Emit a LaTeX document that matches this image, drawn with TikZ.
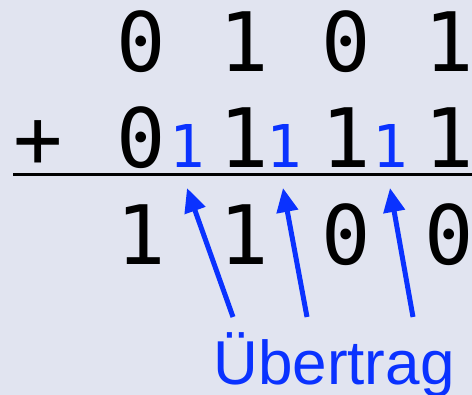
\documentclass[tikz,border=0pt]{standalone}
\usepackage{fontspec}
\setmonofont{DejaVu Sans Mono}
\newfontfamily\labelfont{Liberation Sans}
\usetikzlibrary{arrows.meta}
\definecolor{bgpaper}{RGB}{225,228,240}
\definecolor{carryblue}{RGB}{10,50,255}
\tikzset{
  digit/.style={anchor=base,inner sep=0,outer sep=0,font=\ttfamily\fontsize{82}{82}\selectfont},
  carry digit/.style={digit,text=carryblue,font=\ttfamily\fontsize{59}{59}\selectfont},
  carry label/.style={anchor=base,inner sep=0,outer sep=0,text=carryblue,font=\labelfont\fontsize{62}{62}\selectfont},
  carry arrow/.style={draw=carryblue,line width=5pt,-{Triangle[length=24pt,width=21pt]}},
  sum rule/.style={line width=3pt}
}

\begin{document}
\begin{tikzpicture}[x=1pt,y=-1pt]
  % Paper
  \fill[bgpaper] (0,0) rectangle (472,395);
  \useasboundingbox (0,0) rectangle (472,395);
  % Summands, carries and result
  \foreach \x/\d [count=\i] in {141/0,244/1,346/0,449/1} \node[digit] (A\i) at (\x,72) {\d};
  \node[digit] (plus) at (38,168) {+};
  \foreach \x/\d [count=\i] in {141/0,244/1,346/1,449/1} \node[digit] (B\i) at (\x,168) {\d};
  \foreach \x [count=\i] in {187,284,390} \node[carry digit] (C\i) at (\x,168) {1};
  \draw[sum rule] (13,174.5) coordinate (rule west) -- (472,174.5) coordinate (rule east);
  \foreach \x/\d [count=\i] in {141/1,244/1,346/0,449/0} \node[digit] (S\i) at (\x,265) {\d};
  % Label with arrows to the carries
  \node[carry label] (carry) at (334,385) {Übertrag};
  \foreach \tx/\hx [count=\i] in {233/187,307/283,413/390} {
    \coordinate (tail\i) at (\tx,317);
    \coordinate (head\i) at (\hx,188);
    \draw[carry arrow] (tail\i) -- (head\i);
  }
\end{tikzpicture}
\end{document}
